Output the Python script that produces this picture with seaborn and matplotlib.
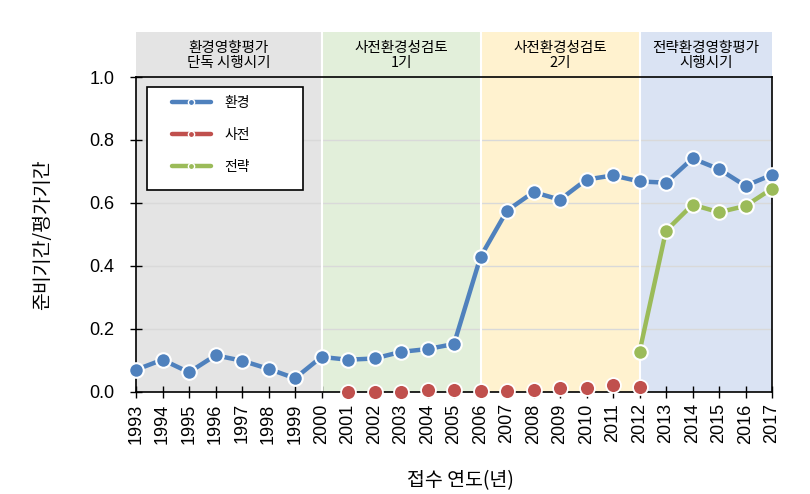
import matplotlib
matplotlib.use("Agg")
import matplotlib.pyplot as plt
import seaborn as sns
import pandas as pd
from matplotlib.patches import Rectangle
from matplotlib.lines import Line2D

sns.set_theme(style="white")
plt.rcParams['font.family'] = ['Liberation Sans', 'Noto Sans CJK KR', 'DejaVu Sans']

years = list(range(1993, 2018))
env_vals = [0.069, 0.101, 0.061, 0.115, 0.098, 0.072, 0.042, 0.110, 0.101, 0.105,
            0.126, 0.135, 0.151, 0.428, 0.575, 0.634, 0.610, 0.674, 0.687, 0.668,
            0.664, 0.741, 0.707, 0.654, 0.689]
pre_years = list(range(2001, 2013))
pre_vals = [0.000, 0.000, 0.000, 0.006, 0.006, 0.001, 0.002, 0.006, 0.011, 0.011, 0.021, 0.013]
str_years = list(range(2012, 2018))
str_vals = [0.126, 0.511, 0.594, 0.570, 0.590, 0.645]

series_names = ['환경', '사전', '전략']
colors = ['#4F81BD', '#C0504D', '#9BBB59']

periods = [(1993, 2000, '환경영향평가\n단독 시행시기', '#E4E4E4'),
           (2000, 2006, '사전환경성검토\n1기', '#E2EFDA'),
           (2006, 2012, '사전환경성검토\n2기', '#FFF2CF'),
           (2012, 2017, '전략환경영향평가\n시행시기', '#DAE3F3')]

fig = plt.figure(figsize=(8.1, 4.94), dpi=100)
ax = fig.add_axes([136/810, 1-391.5/494, 636/810, 314.5/494])
ax.set_xlim(1993, 2017)
ax.set_ylim(0, 1.0)
top = (391.5 - 32) / 314.5

for x0, x1, label, c in periods:
    ax.add_patch(Rectangle((x0, 0), x1 - x0, top, facecolor=c, edgecolor='none',
                           zorder=0, clip_on=False))
    ax.text((x0 + x1) / 2, 1.068, label, ha='center', va='center', fontsize=10.5,
            linespacing=1.1, color='black', zorder=1,
            family=['Noto Sans CJK KR', 'DejaVu Sans'])
for xb in [2000, 2006, 2012]:
    ax.plot([xb, xb], [0, top], color='white', lw=1.5, zorder=0.6, clip_on=False)

for yv in [0.2, 0.4, 0.6, 0.8]:
    ax.axhline(yv, color='#D9D9D9', lw=1, zorder=0.5)

env_df = pd.DataFrame({'year': years, 'value': env_vals})
pre_df = pd.DataFrame({'year': pre_years, 'value': pre_vals})
str_df = pd.DataFrame({'year': str_years, 'value': str_vals})

mk = dict(marker='o', markersize=10.5, markeredgecolor='white', markeredgewidth=1.5)
sns.lineplot(data=env_df, x='year', y='value', color=colors[0], lw=3.2, ax=ax,
             zorder=4, clip_on=False, **mk)
sns.lineplot(data=str_df, x='year', y='value', color=colors[2], lw=3.2, ax=ax,
             zorder=4, clip_on=False, **mk)
sns.scatterplot(data=pre_df, x='year', y='value', color=colors[1], s=115,
                edgecolor='white', linewidth=1.3, ax=ax, zorder=5, clip_on=False)

for sp in ax.spines.values():
    sp.set_color('black')
    sp.set_linewidth(1.2)
    sp.set_visible(True)

ax.set_xticks(years)
ax.set_xticklabels([str(y) for y in years], rotation=90, fontsize=13)
ax.set_yticks([0, 0.2, 0.4, 0.6, 0.8, 1.0])
ax.set_yticklabels(['0.0', '0.2', '0.4', '0.6', '0.8', '1.0'], fontsize=13)
ax.tick_params(axis='y', direction='inout', length=9, width=1, pad=11, color='black',
               left=True, labelcolor='black')
ax.tick_params(axis='x', direction='inout', length=9, width=1, pad=4, color='black',
               bottom=True, labelcolor='black')
ax.grid(False)

ax.set_xlabel('접수 연도(년)', fontsize=14, color='black',
              family=['Noto Sans CJK KR', 'DejaVu Sans'])
ax.set_ylabel('준비기간/평가기간', fontsize=14, color='black',
              family=['Noto Sans CJK KR', 'DejaVu Sans'])
ax.xaxis.set_label_coords(0.51, -0.25)
ax.yaxis.set_label_coords(-0.13, 0.5)

# legend box
ax.add_patch(Rectangle((11/636, (391.5-190)/314.5), 156/636, 103/314.5,
                       transform=ax.transAxes, facecolor='white', edgecolor='black',
                       lw=1.2, zorder=6))
handles = [Line2D([0], [0], color=c, lw=3.2, marker='o', markersize=4.5,
                  markerfacecolor=c, markeredgecolor='white', markeredgewidth=1)
           for c in colors]
leg = ax.legend(handles, series_names, loc='upper left',
                bbox_to_anchor=(36/636, (391.5-96)/314.5), frameon=False,
                borderpad=0, borderaxespad=0, handlelength=2.8, handletextpad=0.95,
                labelspacing=1.3, prop={'family': ['Noto Sans CJK KR'], 'size': 10})
for t in leg.get_texts():
    t.set_color('black')
leg.set_zorder(7)

fig.savefig('out.png', dpi=100)
